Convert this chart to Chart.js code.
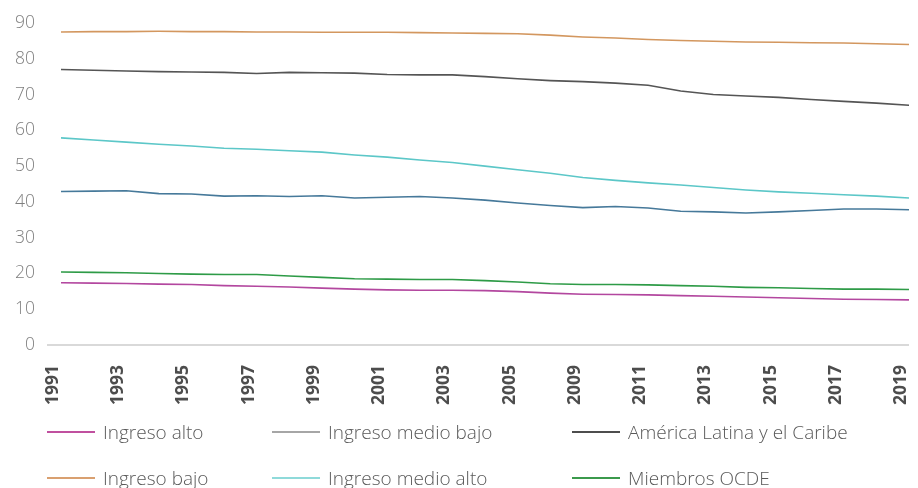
<!DOCTYPE html>
<html>
<head>
<meta charset="utf-8">
<script src="https://cdn.jsdelivr.net/npm/chart.js@4.4.1/dist/chart.umd.min.js"></script>
<style>
    body { margin: 0; background: #fff; font-family: "Open Sans", sans-serif; }
    #wrap { position: absolute; left: 0; top: 0; width: 918px; height: 417px; }
    #legend { position: absolute; left: 0; top: 0; width: 918px; height: 488px; pointer-events: none; }
    .item { position: absolute; display: flex; align-items: center; height: 24px; margin-top: -12px;
            font-weight: 300; font-size: 19px; color: #595959; white-space: nowrap; }
    .swatch { width: 48px; height: 2px; margin-right: 8px; }
</style>
</head>
<body>
<div id="wrap"><canvas id="chart"></canvas></div>
<div id="legend"></div>
<script>
// Años (el índice 15 no lleva etiqueta visible)
const years = ['1991', '1992', '1993', '1994', '1995', '1996', '1997', '1998', '1999', '2000',
    '2001', '2002', '2003', '2004', '2005', '2007', '2009', '2010', '2011', '2012',
    '2013', '2014', '2015', '2016', '2017', '2018', '2019'];

const ingresoAlto = [17.4, 17.3, 17.2, 17.0, 16.9, 16.6, 16.4, 16.2, 15.9, 15.6,
    15.4, 15.3, 15.3, 15.2, 14.9, 14.5, 14.2, 14.1, 14.0, 13.8,
    13.6, 13.4, 13.2, 13.0, 12.8, 12.7, 12.6];

const ingresoMedioBajo = [42.9, 43.0, 43.1, 42.3, 42.2, 41.6, 41.7, 41.5, 41.7, 41.1,
    41.3, 41.5, 41.1, 40.5, 39.7, 39.0, 38.4, 38.7, 38.3, 37.4,
    37.2, 36.9, 37.2, 37.6, 38.0, 38.0, 37.8];

const americaLatina = [77.0, 76.8, 76.6, 76.4, 76.3, 76.2, 75.9, 76.2, 76.1, 76.0,
    75.6, 75.5, 75.5, 75.0, 74.4, 73.9, 73.6, 73.2, 72.6, 71.0,
    70.0, 69.6, 69.2, 68.6, 68.1, 67.6, 67.0];

const ingresoBajo = [87.5, 87.6, 87.6, 87.7, 87.6, 87.6, 87.5, 87.5, 87.4, 87.4,
    87.4, 87.3, 87.2, 87.1, 87.0, 86.6, 86.1, 85.8, 85.4, 85.1,
    84.9, 84.7, 84.6, 84.5, 84.4, 84.2, 84.0];

const ingresoMedioAlto = [57.9, 57.3, 56.7, 56.1, 55.6, 55.0, 54.7, 54.3, 53.9, 53.1,
    52.5, 51.7, 51.0, 50.0, 49.0, 48.0, 46.8, 46.0, 45.3, 44.7,
    44.0, 43.3, 42.8, 42.4, 42.0, 41.6, 41.1];

const miembrosOcde = [20.4, 20.3, 20.2, 20.0, 19.8, 19.7, 19.7, 19.3, 18.9, 18.5,
    18.4, 18.3, 18.3, 18.0, 17.6, 17.1, 16.9, 16.9, 16.8, 16.6,
    16.4, 16.1, 16.0, 15.8, 15.6, 15.6, 15.5];

const seriesNames = ['Ingreso alto', 'Ingreso medio bajo', 'América Latina y el Caribe',
    'Ingreso bajo', 'Ingreso medio alto', 'Miembros OCDE'];
const seriesData = [ingresoAlto, ingresoMedioBajo, americaLatina, ingresoBajo, ingresoMedioAlto, miembrosOcde];
const lineColors = ['#b3479f', '#46799a', '#555555', '#d3975f', '#5cc7c8', '#2e9b47'];
const legendColors = ['#c0509f', '#a6a6a6', '#4d4d4d', '#d9a070', '#8fdada', '#3b9a4c'];

const yTicks = { min: 0, max: 90, step: 10 };

const chart = new Chart(document.getElementById('chart').getContext('2d'), {
    type: 'line',
    data: {
        labels: years,
        datasets: seriesData.map((data, i) => ({
            label: seriesNames[i],
            data: data,
            borderColor: lineColors[i],
            borderWidth: 1.6,
            pointRadius: 0,
            tension: 0,
            fill: false
        }))
    },
    options: {
        responsive: true,
        maintainAspectRatio: false,
        animation: false,
        layout: { padding: { top: 23, right: 9, left: 0, bottom: 0 } },
        plugins: {
            legend: { display: false },
            tooltip: { enabled: false }
        },
        scales: {
            x: {
                grid: { display: false },
                border: { display: false },
                // sin margen extra por la última etiqueta girada
                afterFit: function(scale) {
                    scale.paddingRight = 0;
                    scale.paddingLeft = 0;
                },
                ticks: {
                    autoSkip: false,
                    maxRotation: 90,
                    minRotation: 90,
                    padding: 12,
                    labelOffset: -8,
                    color: '#4d4d4d',
                    font: { family: 'Open Sans', size: 17.5, weight: 'bold' },
                    callback: function(value, index) {
                        return index % 2 === 0 ? this.getLabelForValue(value) : '';
                    }
                }
            },
            y: {
                min: yTicks.min,
                max: yTicks.max,
                afterFit: function(scale) { scale.width = 61; },
                border: { display: false },
                grid: {
                    drawTicks: true,
                    tickLength: 14,
                    lineWidth: 2,
                    color: ctx => ctx.tick && ctx.tick.value === 0 ? '#d9d9d9' : 'rgba(0,0,0,0)'
                },
                ticks: {
                    stepSize: yTicks.step,
                    padding: 12,
                    color: '#7f7f7f',
                    font: { family: 'Open Sans', size: 17.5, weight: 300 }
                }
            }
        }
    }
});

// Leyenda en HTML: tres columnas, dos filas
const legendCols = [47, 272, 572];
const legendRows = [432, 478];
const legendEl = document.getElementById('legend');
seriesNames.forEach((name, i) => {
    const item = document.createElement('div');
    item.className = 'item';
    item.style.left = legendCols[i % 3] + 'px';
    item.style.top = legendRows[Math.floor(i / 3)] + 'px';
    item.innerHTML = '<span class="swatch" style="background:' + legendColors[i] + '"></span>' + name;
    legendEl.appendChild(item);
});
</script>
</body>
</html>
